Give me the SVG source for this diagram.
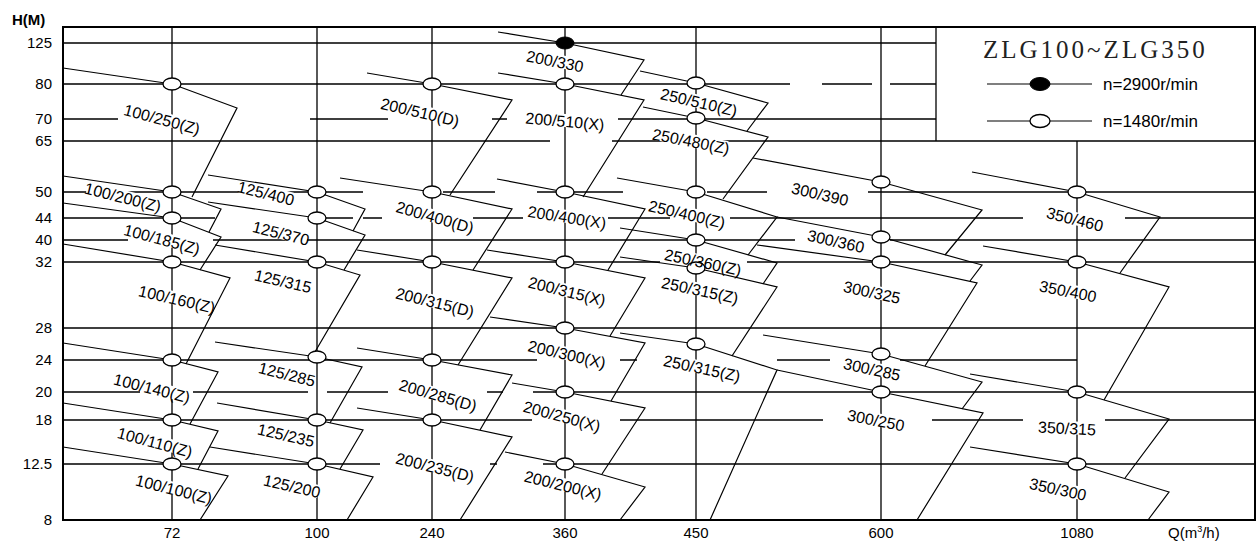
<svg xmlns="http://www.w3.org/2000/svg" width="1256" height="547" viewBox="0 0 1256 547">
<style>
.g{stroke:#000;stroke-width:1.3;fill:none}
.f{stroke:#000;stroke-width:2;fill:none}
.c{stroke:#000;stroke-width:1.2;fill:none;stroke-linejoin:miter}
.m{fill:#fff;stroke:#000;stroke-width:1.3}
.mf{fill:#000;stroke:#000;stroke-width:1}
.bg{fill:#fff}
.t{font-family:"Liberation Sans",Arial,sans-serif;font-size:16px;fill:#000;text-anchor:middle}
.a{font-family:"Liberation Sans",Arial,sans-serif;font-size:15px;fill:#000}
.ay{text-anchor:end}
.ax{text-anchor:middle}
</style>
<rect width="1256" height="547" fill="#fff"/>
<g id="grid">
<path class="g" d="M63,43H936 M63,84H790 M822,84H872 M890,84H936 M63,119H118 M310,119H388 M492,119H507 M618,119H936 M63,141H550 M612,141H1255 M63,192H363 M443,192H495 M537,192H623 M707,192H767 M868,192H1255 M63,218H215 M323,218H353 M363,218H382 M473,218H523 M608,218H670 M730,218H1023 M1125,218H1255 M63,240H128 M213,240H687 M705,240H795 M890,240H1255 M63,262H660 M747,262H1255 M63,328H1255 M63,360H537 M620,360H637 M777,360H830 M900,360H1077 M63,392H140 M193,392H308 M327,392H388 M487,392H503 M533,392H1255 M63,420H532 M620,420H823 M932,420H1023 M1105,420H1255 M63,464H380 M490,464H497 M543,464H1255"/>
<path class="g" d="M172,27V520 M317,27V520 M432,27V520 M565,27V520 M696,27V520 M881,27V520 M1077,141V520 M936,27V141"/>
<path class="f" d="M63,27H1255V520H63Z"/>
</g>
<g id="label-knockouts" class="bg">
<rect x="-37" y="-7" width="74" height="13" transform="translate(162,119) rotate(15)"/>
<rect x="-37" y="-7" width="74" height="13" transform="translate(123,197) rotate(14)"/>
<rect x="-37" y="-7" width="74" height="13" transform="translate(162,239) rotate(15)"/>
<rect x="-37" y="-7" width="74" height="13" transform="translate(177,299) rotate(13)"/>
<rect x="-37" y="-7" width="74" height="13" transform="translate(152,388) rotate(14)"/>
<rect x="-37" y="-7" width="74" height="13" transform="translate(155,442) rotate(15)"/>
<rect x="-37" y="-7" width="74" height="13" transform="translate(174,489) rotate(14)"/>
<rect x="-27" y="-7" width="54" height="13" transform="translate(266,193) rotate(14)"/>
<rect x="-27" y="-7" width="54" height="13" transform="translate(281,233) rotate(14)"/>
<rect x="-27" y="-7" width="54" height="13" transform="translate(283,281) rotate(13)"/>
<rect x="-27" y="-7" width="54" height="13" transform="translate(287,374) rotate(14)"/>
<rect x="-27" y="-7" width="54" height="13" transform="translate(286,435) rotate(13)"/>
<rect x="-27" y="-7" width="54" height="13" transform="translate(292,486) rotate(13)"/>
<rect x="-38" y="-7" width="76" height="13" transform="translate(420,112) rotate(13)"/>
<rect x="-38" y="-7" width="76" height="13" transform="translate(435,217) rotate(16)"/>
<rect x="-38" y="-7" width="76" height="13" transform="translate(435,302) rotate(14)"/>
<rect x="-38" y="-7" width="76" height="13" transform="translate(438,395) rotate(16)"/>
<rect x="-38" y="-7" width="76" height="13" transform="translate(435,467) rotate(14)"/>
<rect x="-27" y="-7" width="54" height="13" transform="translate(555,61) rotate(11)"/>
<rect x="-38" y="-7" width="76" height="13" transform="translate(565,121) rotate(5)"/>
<rect x="-38" y="-7" width="76" height="13" transform="translate(567,217) rotate(9)"/>
<rect x="-38" y="-7" width="76" height="13" transform="translate(567,291) rotate(14)"/>
<rect x="-38" y="-7" width="76" height="13" transform="translate(567,354) rotate(13)"/>
<rect x="-38" y="-7" width="76" height="13" transform="translate(562,416) rotate(15)"/>
<rect x="-38" y="-7" width="76" height="13" transform="translate(563,485) rotate(14)"/>
<rect x="-37" y="-7" width="74" height="13" transform="translate(699,102) rotate(13)"/>
<rect x="-37" y="-7" width="74" height="13" transform="translate(691,141) rotate(11)"/>
<rect x="-37" y="-7" width="74" height="13" transform="translate(687,214) rotate(13)"/>
<rect x="-37" y="-7" width="74" height="13" transform="translate(703,262) rotate(12)"/>
<rect x="-37" y="-7" width="74" height="13" transform="translate(700,290) rotate(12)"/>
<rect x="-37" y="-7" width="74" height="13" transform="translate(702,368) rotate(12)"/>
<rect x="-27" y="-7" width="54" height="13" transform="translate(820,194) rotate(13)"/>
<rect x="-27" y="-7" width="54" height="13" transform="translate(836,241) rotate(12.5)"/>
<rect x="-27" y="-7" width="54" height="13" transform="translate(872,292) rotate(12)"/>
<rect x="-27" y="-7" width="54" height="13" transform="translate(872,369) rotate(12)"/>
<rect x="-27" y="-7" width="54" height="13" transform="translate(876,420) rotate(11)"/>
<rect x="-27" y="-7" width="54" height="13" transform="translate(1075,219) rotate(14)"/>
<rect x="-27" y="-7" width="54" height="13" transform="translate(1068,291) rotate(11)"/>
<rect x="-27" y="-7" width="54" height="13" transform="translate(1067,428) rotate(3)"/>
<rect x="-27" y="-7" width="54" height="13" transform="translate(1058,489) rotate(12)"/>
</g>
<g id="axes">
<text class="a" x="12" y="25" style="font-weight:bold">H(M)</text>
<g class="a ay">
<text x="52" y="48">125</text><text x="52" y="89">80</text><text x="52" y="124">70</text><text x="52" y="146">65</text>
<text x="52" y="197">50</text><text x="52" y="223">44</text><text x="52" y="245">40</text><text x="52" y="267">32</text>
<text x="52" y="333">28</text><text x="52" y="365">24</text><text x="52" y="397">20</text><text x="52" y="425">18</text>
<text x="52" y="469">12.5</text><text x="52" y="525">8</text>
</g>
<g class="a ax">
<text x="172" y="538">72</text><text x="317" y="538">100</text><text x="432" y="538">240</text><text x="565" y="538">360</text>
<text x="696" y="538">450</text><text x="881" y="538">600</text><text x="1077" y="538">1080</text>
</g>
<text class="a" x="1168" y="538">Q(m<tspan font-size="9" dy="-6">3</tspan><tspan dy="6">/h)</tspan></text>
</g>
<g id="legend">
<text x="983" y="58" style="font-family:'Liberation Serif','Times New Roman',serif;font-size:25px;letter-spacing:3px;fill:#222">ZLG100~ZLG350</text>
<path class="c" d="M987,84H1092 M987,121H1092"/>
<ellipse class="mf" cx="1040" cy="84" rx="10" ry="6.5"/>
<ellipse class="m" cx="1040" cy="121" rx="10" ry="6.5"/>
<text class="a" x="1103" y="90" style="font-size:17px">n=2900r/min</text>
<text class="a" x="1103" y="127" style="font-size:17px">n=1480r/min</text>
</g>
<g id="connectors">
<polyline class="c" points="63,68 172,84 237,108 192,197"/>
<polyline class="c" points="63,176 172,192 221,209 209,232"/>
<polyline class="c" points="63,203 172,218 221,237 200,270"/>
<polyline class="c" points="63,244 172,262 230,278 186,364"/>
<polyline class="c" points="63,343 172,360 218,372 190,424"/>
<polyline class="c" points="63,403 172,420 218,431 198,469"/>
<polyline class="c" points="63,447 172,464 228,476 200,520"/>
<polyline class="c" points="208,175 317,192 365,209 353,231"/>
<polyline class="c" points="208,202 317,218 365,235 344,270"/>
<polyline class="c" points="215,245 317,262 360,275 312,357"/>
<polyline class="c" points="215,342 317,357 362,367 330,423"/>
<polyline class="c" points="217,403 317,420 363,430 340,469"/>
<polyline class="c" points="210,447 317,464 373,477 347,520"/>
<polyline class="c" points="367,73 432,84 512,100 450,195"/>
<polyline class="c" points="340,178 432,192 512,209 473,270"/>
<polyline class="c" points="357,250 432,262 512,278 458,365"/>
<polyline class="c" points="357,348 432,360 512,375 480,430"/>
<polyline class="c" points="357,408 432,420 512,437 460,520"/>
<polyline class="c" points="498,32 565,43 644,60 621,95"/>
<polyline class="c" points="498,73 565,84 644,100 583,197"/>
<polyline class="c" points="497,179 565,192 645,209 608,270"/>
<polyline class="c" points="487,250 565,262 645,278 610,336"/>
<polyline class="c" points="490,317 565,328 645,343 611,401"/>
<polyline class="c" points="512,383 565,392 645,408 602,474"/>
<polyline class="c" points="505,452 565,464 645,487 620,520"/>
<polyline class="c" points="640,71 696,83 768,103 747,131"/>
<polyline class="c" points="643,107 696,118 768,137 723,199"/>
<polyline class="c" points="617,178 696,192 777,217 748,255"/>
<polyline class="c" points="620,228 696,240 777,263 763,284"/>
<polyline class="c" points="620,257 696,268 777,287 732,356"/>
<polyline class="c" points="620,333 696,344 777,370 710,520"/>
<polyline class="c" points="753,158 881,182 982,210 945,255"/>
<polyline class="c" points="777,217 881,237 982,265 970,281"/>
<polyline class="c" points="757,245 881,262 977,283 925,366"/>
<polyline class="c" points="763,335 881,354 982,382 962,409"/>
<polyline class="c" points="777,370 881,392 983,413 917,520"/>
<polyline class="c" points="972,172 1077,192 1160,217 1120,273"/>
<polyline class="c" points="983,246 1077,262 1169,287 1104,400"/>
<polyline class="c" points="970,374 1077,392 1169,419 1125,478"/>
<polyline class="c" points="970,447 1077,464 1169,492 1148,520"/>
</g>
<g id="markers">
<ellipse class="m" cx="172" cy="84" rx="9" ry="6"/><ellipse class="m" cx="172" cy="192" rx="9" ry="6"/>
<ellipse class="m" cx="172" cy="218" rx="9" ry="6"/><ellipse class="m" cx="172" cy="262" rx="9" ry="6"/>
<ellipse class="m" cx="172" cy="360" rx="9" ry="6"/><ellipse class="m" cx="172" cy="420" rx="9" ry="6"/>
<ellipse class="m" cx="172" cy="464" rx="9" ry="6"/>
<ellipse class="m" cx="317" cy="192" rx="9" ry="6"/><ellipse class="m" cx="317" cy="218" rx="9" ry="6"/>
<ellipse class="m" cx="317" cy="262" rx="9" ry="6"/><ellipse class="m" cx="317" cy="357" rx="9" ry="6"/>
<ellipse class="m" cx="317" cy="420" rx="9" ry="6"/><ellipse class="m" cx="317" cy="464" rx="9" ry="6"/>
<ellipse class="m" cx="432" cy="84" rx="9" ry="6"/><ellipse class="m" cx="432" cy="192" rx="9" ry="6"/>
<ellipse class="m" cx="432" cy="262" rx="9" ry="6"/><ellipse class="m" cx="432" cy="360" rx="9" ry="6"/>
<ellipse class="m" cx="432" cy="420" rx="9" ry="6"/>
<ellipse class="mf" cx="565" cy="43" rx="9" ry="6"/>
<ellipse class="m" cx="565" cy="84" rx="9" ry="6"/><ellipse class="m" cx="565" cy="192" rx="9" ry="6"/>
<ellipse class="m" cx="565" cy="262" rx="9" ry="6"/><ellipse class="m" cx="565" cy="328" rx="9" ry="6"/>
<ellipse class="m" cx="565" cy="392" rx="9" ry="6"/><ellipse class="m" cx="565" cy="464" rx="9" ry="6"/>
<ellipse class="m" cx="696" cy="83" rx="9" ry="6"/><ellipse class="m" cx="696" cy="118" rx="9" ry="6"/>
<ellipse class="m" cx="696" cy="192" rx="9" ry="6"/><ellipse class="m" cx="696" cy="240" rx="9" ry="6"/>
<ellipse class="m" cx="696" cy="268" rx="9" ry="6"/><ellipse class="m" cx="696" cy="344" rx="9" ry="6"/>
<ellipse class="m" cx="881" cy="182" rx="9" ry="6"/><ellipse class="m" cx="881" cy="237" rx="9" ry="6"/>
<ellipse class="m" cx="881" cy="262" rx="9" ry="6"/><ellipse class="m" cx="881" cy="354" rx="9" ry="6"/>
<ellipse class="m" cx="881" cy="392" rx="9" ry="6"/>
<ellipse class="m" cx="1077" cy="192" rx="9" ry="6"/><ellipse class="m" cx="1077" cy="262" rx="9" ry="6"/>
<ellipse class="m" cx="1077" cy="392" rx="9" ry="6"/><ellipse class="m" cx="1077" cy="464" rx="9" ry="6"/>
</g>
<g id="labels" class="t">
<text transform="translate(162,119) rotate(15)" y="6">100/250(Z)</text>
<text transform="translate(123,197) rotate(14)" y="6">100/200(Z)</text>
<text transform="translate(162,239) rotate(15)" y="6">100/185(Z)</text>
<text transform="translate(177,299) rotate(13)" y="6">100/160(Z)</text>
<text transform="translate(152,388) rotate(14)" y="6">100/140(Z)</text>
<text transform="translate(155,442) rotate(15)" y="6">100/110(Z)</text>
<text transform="translate(174,489) rotate(14)" y="6">100/100(Z)</text>
<text transform="translate(266,193) rotate(14)" y="6">125/400</text>
<text transform="translate(281,233) rotate(14)" y="6">125/370</text>
<text transform="translate(283,281) rotate(13)" y="6">125/315</text>
<text transform="translate(287,374) rotate(14)" y="6">125/285</text>
<text transform="translate(286,435) rotate(13)" y="6">125/235</text>
<text transform="translate(292,486) rotate(13)" y="6">125/200</text>
<text transform="translate(420,112) rotate(13)" y="6">200/510(D)</text>
<text transform="translate(435,217) rotate(16)" y="6">200/400(D)</text>
<text transform="translate(435,302) rotate(14)" y="6">200/315(D)</text>
<text transform="translate(438,395) rotate(16)" y="6">200/285(D)</text>
<text transform="translate(435,467) rotate(14)" y="6">200/235(D)</text>
<text transform="translate(555,61) rotate(11)" y="6">200/330</text>
<text transform="translate(565,121) rotate(5)" y="6">200/510(X)</text>
<text transform="translate(567,217) rotate(9)" y="6">200/400(X)</text>
<text transform="translate(567,291) rotate(14)" y="6">200/315(X)</text>
<text transform="translate(567,354) rotate(13)" y="6">200/300(X)</text>
<text transform="translate(562,416) rotate(15)" y="6">200/250(X)</text>
<text transform="translate(563,485) rotate(14)" y="6">200/200(X)</text>
<text transform="translate(699,102) rotate(13)" y="6">250/510(Z)</text>
<text transform="translate(691,141) rotate(11)" y="6">250/480(Z)</text>
<text transform="translate(687,214) rotate(13)" y="6">250/400(Z)</text>
<text transform="translate(703,262) rotate(12)" y="6">250/360(Z)</text>
<text transform="translate(700,290) rotate(12)" y="6">250/315(Z)</text>
<text transform="translate(702,368) rotate(12)" y="6">250/315(Z)</text>
<text transform="translate(820,194) rotate(13)" y="6">300/390</text>
<text transform="translate(836,241) rotate(12.5)" y="6">300/360</text>
<text transform="translate(872,292) rotate(12)" y="6">300/325</text>
<text transform="translate(872,369) rotate(12)" y="6">300/285</text>
<text transform="translate(876,420) rotate(11)" y="6">300/250</text>
<text transform="translate(1075,219) rotate(14)" y="6">350/460</text>
<text transform="translate(1068,291) rotate(11)" y="6">350/400</text>
<text transform="translate(1067,428) rotate(3)" y="6">350/315</text>
<text transform="translate(1058,489) rotate(12)" y="6">350/300</text>
</g>
</svg>
